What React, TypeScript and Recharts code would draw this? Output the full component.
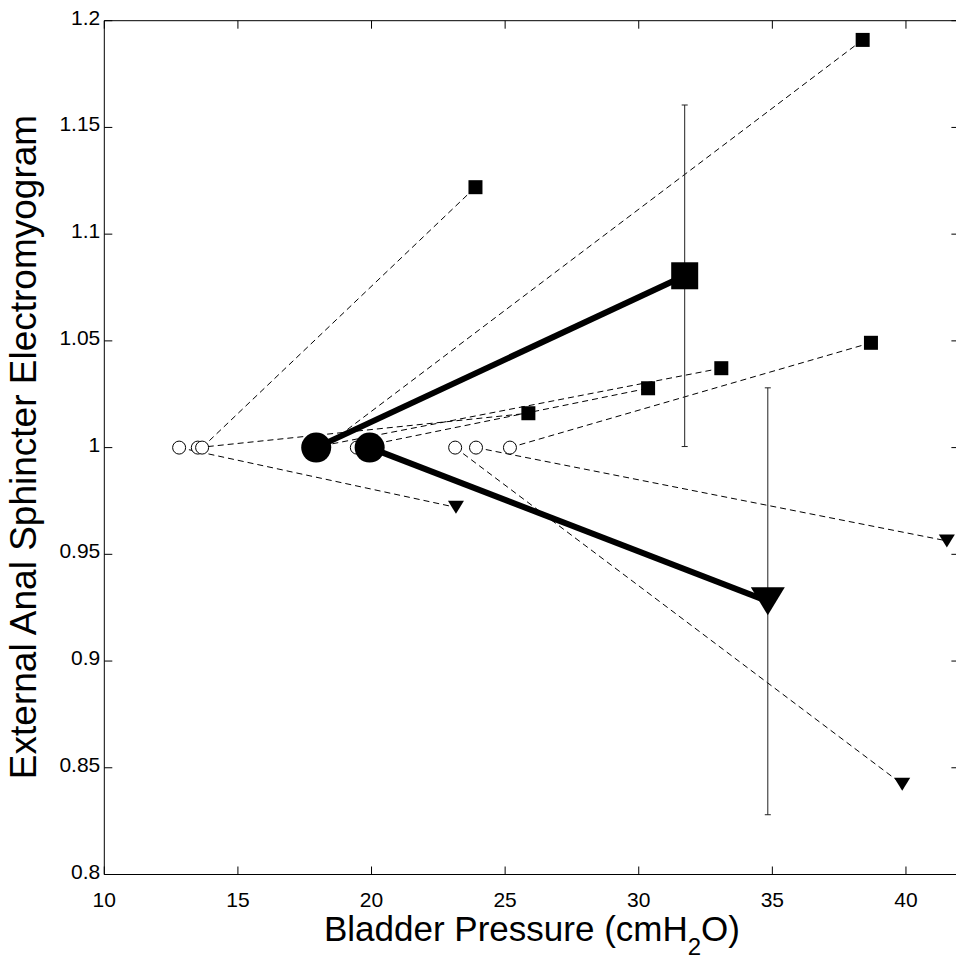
import React from 'react';
import { ComposedChart, Line, Scatter, XAxis, YAxis, ErrorBar } from 'recharts';

// ---- data ----
const xTicks = [10, 15, 20, 25, 30, 35, 40];
const yTicks = [0.8, 0.85, 0.9, 0.95, 1, 1.05, 1.1, 1.15, 1.2];
const yTickLabels = ['0.8', '0.85', '0.9', '0.95', '1', '1.05', '1.1', '1.15', '1.2'];

// baseline (open circles), all at EMG = 1
const baselineX = [12.8, 13.5, 13.66, 17.8, 18.2, 19.45, 23.13, 23.91, 25.18];
const baselineY = 1;

// subjects with increased EMG (squares)
const incStartX = [13.66, 13.5, 17.8, 19.45, 18.2, 25.18];
const incEndX = [23.89, 25.87, 33.09, 30.35, 38.38, 38.69];
const incEndY = [1.122, 1.0161, 1.0372, 1.0278, 1.191, 1.0491];

// subjects with decreased EMG (triangles)
const decStartX = [12.8, 23.13, 23.91];
const decEndX = [23.16, 39.86, 41.53];
const decEndY = [0.972, 0.8423, 0.9563];

// group means
const meanStartX = [17.93, 19.93];
const meanEndX = [31.72, 34.83];
const meanEndY = [1.0805, 0.928];
const meanErr = [0.08, 0.1];

const FONT = '"Liberation Sans", Arial, Helvetica, sans-serif';

const W = 1000;
const H = 959;

const baselinePts = baselineX.map((x) => ({ x, y: baselineY }));
const incEndPts = incEndX.map((x, i) => ({ x, y: incEndY[i] }));
const decEndPts = decEndX.map((x, i) => ({ x, y: decEndY[i] }));
const meanStartPts = meanStartX.map((x) => ({ x, y: baselineY }));
const meanSqPts = [{ x: meanEndX[0], y: meanEndY[0], err: meanErr[0] }];
const meanTriPts = [{ x: meanEndX[1], y: meanEndY[1], err: meanErr[1] }];

const incSegs = incStartX.map((s, i) => [
  { x: s, y: baselineY },
  { x: incEndX[i], y: incEndY[i] },
]);
const decSegs = decStartX.map((s, i) => [
  { x: s, y: baselineY },
  { x: decEndX[i], y: decEndY[i] },
]);
const meanSegs = meanStartX.map((s, i) => [
  { x: s, y: baselineY },
  { x: meanEndX[i], y: meanEndY[i] },
]);

const OpenCircle = (p: any) => (
  <circle cx={p.cx} cy={p.cy} r={6.5} fill="#fff" stroke="#000" strokeWidth={1} />
);
const Dot = (p: any) => <circle cx={p.cx} cy={p.cy} r={15} fill="#000" />;
const makeSquare = (s: number) => (p: any) => (
  <rect x={p.cx - s / 2} y={p.cy - s / 2} width={s} height={s} fill="#000" />
);
const makeTri = (w: number, h: number) => (p: any) => (
  <polygon
    points={`${p.cx - w / 2},${p.cy - h / 2} ${p.cx + w / 2},${p.cy - h / 2} ${p.cx},${p.cy + h / 2}`}
    fill="#000"
  />
);
const SmallSquare = makeSquare(14);
const BigSquare = makeSquare(27);
const SmallTri = makeTri(16, 13);
const BigTri = makeTri(34, 28);

const BottomTick = (p: any) => (
  <g>
    <line x1={p.x} y1={p.y} x2={p.x} y2={p.y - 8} stroke="#000" strokeWidth={1} />
    <text x={p.x} y={p.y + 32} textAnchor="middle" fontSize={21} fontFamily={FONT} fill="#000">
      {p.payload.value}
    </text>
  </g>
);
const TopTick = (p: any) => (
  <line x1={p.x} y1={p.y} x2={p.x} y2={p.y + 8} stroke="#000" strokeWidth={1} />
);
const LeftTick = (p: any) => {
  const idx = yTicks.indexOf(p.payload.value);
  return (
    <g>
      <line x1={p.x} y1={p.y} x2={p.x + 8} y2={p.y} stroke="#000" strokeWidth={1} />
      <text x={p.x - 4} y={p.y + 4} textAnchor="end" fontSize={21} fontFamily={FONT} fill="#000">
        {idx >= 0 ? yTickLabels[idx] : p.payload.value}
      </text>
    </g>
  );
};
const RightTick = (p: any) => (
  <line x1={p.x} y1={p.y} x2={p.x - 8} y2={p.y} stroke="#000" strokeWidth={1} />
);

export default function App() {
  return (
    <div
      style={{
        position: 'fixed',
        left: 0,
        top: 0,
        width: 956,
        height: 959,
        overflow: 'hidden',
        background: '#fff',
      }}
    >
      <ComposedChart
        width={W}
        height={H}
        margin={{ top: 10.7, right: 30.6, left: 24.3, bottom: 24.5 }}
      >
        <XAxis
          dataKey="x"
          type="number"
          domain={[10, 42]}
          ticks={xTicks}
          allowDataOverflow
          height={60}
          tickSize={0}
          tickMargin={0}
          tickLine={false}
          axisLine={{ stroke: '#000', strokeWidth: 1 }}
          tick={<BottomTick />}
          interval={0}
        />
        <XAxis
          xAxisId="top"
          orientation="top"
          dataKey="x"
          type="number"
          domain={[10, 42]}
          ticks={xTicks}
          allowDataOverflow
          height={10}
          tickSize={0}
          tickMargin={0}
          tickLine={false}
          axisLine={{ stroke: '#000', strokeWidth: 1 }}
          tick={<TopTick />}
          interval={0}
        />
        <YAxis
          dataKey="y"
          type="number"
          domain={[0.8, 1.2]}
          ticks={yTicks}
          allowDataOverflow
          width={80}
          tickSize={0}
          tickMargin={0}
          tickLine={false}
          axisLine={{ stroke: '#000', strokeWidth: 1 }}
          tick={<LeftTick />}
          interval={0}
        />
        <YAxis
          yAxisId="right"
          orientation="right"
          dataKey="y"
          type="number"
          domain={[0.8, 1.2]}
          ticks={yTicks}
          allowDataOverflow
          width={10}
          tickSize={0}
          tickMargin={0}
          tickLine={false}
          axisLine={{ stroke: '#000', strokeWidth: 1 }}
          tick={<RightTick />}
          interval={0}
        />

        {incSegs.map((d, i) => (
          <Line
            key={'inc' + i}
            data={d}
            dataKey="y"
            type="linear"
            stroke="#000"
            strokeWidth={1}
            strokeDasharray="6 4"
            dot={false}
            activeDot={false}
            isAnimationActive={false}
          />
        ))}
        {decSegs.map((d, i) => (
          <Line
            key={'dec' + i}
            data={d}
            dataKey="y"
            type="linear"
            stroke="#000"
            strokeWidth={1}
            strokeDasharray="6 4"
            dot={false}
            activeDot={false}
            isAnimationActive={false}
          />
        ))}
        {meanSegs.map((d, i) => (
          <Line
            key={'mean' + i}
            data={d}
            dataKey="y"
            type="linear"
            stroke="#000"
            strokeWidth={6}
            dot={false}
            activeDot={false}
            isAnimationActive={false}
          />
        ))}

        <Scatter data={baselinePts} dataKey="y" shape={OpenCircle} isAnimationActive={false} />
        <Scatter data={incEndPts} dataKey="y" shape={SmallSquare} isAnimationActive={false} />
        <Scatter data={decEndPts} dataKey="y" shape={SmallTri} isAnimationActive={false} />
        <Scatter data={meanStartPts} dataKey="y" shape={Dot} isAnimationActive={false} />
        <Scatter data={meanSqPts} dataKey="y" shape={BigSquare} isAnimationActive={false}>
          <ErrorBar dataKey="err" direction="y" width={3} stroke="#222" strokeWidth={1} />
        </Scatter>
        <Scatter data={meanTriPts} dataKey="y" shape={BigTri} isAnimationActive={false}>
          <ErrorBar dataKey="err" direction="y" width={3} stroke="#222" strokeWidth={1} />
        </Scatter>

        <text
          x={36}
          y={447}
          transform="rotate(-90, 36, 447)"
          textAnchor="middle"
          fontSize={37}
          fontFamily={FONT}
          fill="#000"
        >
          External Anal Sphincter Electromyogram
        </text>
        <text x={532} y={941} textAnchor="middle" fontSize={35} fontFamily={FONT} fill="#000">
          <tspan>Bladder Pressure (cmH</tspan>
          <tspan fontSize={24} dy={14}>2</tspan>
          <tspan dy={-14}>O)</tspan>
        </text>
      </ComposedChart>
    </div>
  );
}
